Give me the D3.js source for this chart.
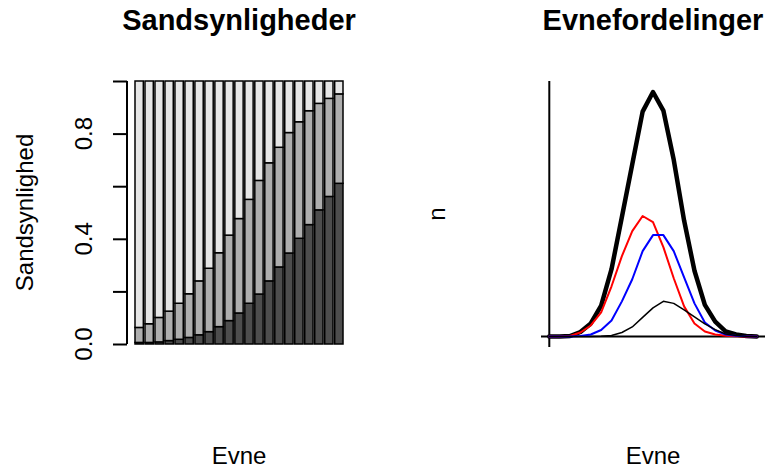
<!DOCTYPE html>
<html>
<head>
<meta charset="utf-8">
<script src="https://cdn.jsdelivr.net/npm/d3@7"></script>
<style>
  body { margin: 0; background: #fff; }
  text { font-family: "Liberation Sans", Arial, Helvetica, sans-serif; fill: #000; }
</style>
</head>
<body>
<div id="chart"></div>
<script>
// ability levels (21 groups)
var levels = d3.range(1, 22);

// stacked probabilities per level: lowest / middle / highest category
var probLow  = [0.006,0.006,0.008,0.013,0.018,0.025,0.035,0.047,0.066,0.089,0.118,0.155,0.190,0.240,0.293,0.346,0.402,0.454,0.510,0.561,0.611];
var probMid  = [0.057,0.071,0.093,0.112,0.137,0.166,0.205,0.241,0.281,0.325,0.359,0.395,0.432,0.449,0.455,0.458,0.443,0.433,0.405,0.373,0.340];
var probHigh = [0.937,0.923,0.899,0.875,0.845,0.809,0.760,0.712,0.653,0.586,0.523,0.450,0.378,0.311,0.252,0.196,0.155,0.113,0.085,0.066,0.049];
var barColors = ["#4D4D4D", "#AEAEAE", "#E6E6E6"];
var yTicks = [0, 0.2, 0.4, 0.6, 0.8, 1.0];
var yTickLabels = ["0.0", "", "0.4", "", "0.8", ""];

// ability distributions (counts per level)
var nTotal = [0,0.1,0.5,4.5,13,30.8,67,119,171.5,224,243.5,225,176,115.5,65.5,31.5,14.8,5.2,2,0.6,0];
var nRed   = [0,0.1,0.5,4,11,24,50,80,105,120,114,89,58,30,13,5,2,0.7,0.3,0.1,0];
var nBlue  = [0,0,0,0.5,2,6.5,16,35,57,85,101,101,85,59,33,14,6,2,0.7,0.2,0];
var nBlack = [0,0,0,0,0,0.3,1,4,9.5,19,28.5,35,33,26.5,19.5,12.5,6.8,2.5,1,0.3,0];

var W = 774, H = 475;
var svg = d3.select("#chart").append("svg")
    .attr("width", W).attr("height", H);

svg.append("rect").attr("width", W).attr("height", H).attr("fill", "#fff");

// ---------- left: stacked bars ----------
var x1 = d3.scaleBand()
    .domain(levels)
    .range([135, 343])
    .paddingInner(1 / 6)
    .paddingOuter(0);
var y1 = d3.scaleLinear().domain([0, 1]).range([344, 81]);

var stackRows = levels.map(function (l, i) {
    return { level: l, low: probLow[i], mid: probMid[i], high: probHigh[i] };
});
var stack = d3.stack().keys(["low", "mid", "high"])(stackRows);

svg.append("g").selectAll("g")
    .data(stack)
    .enter().append("g")
    .attr("fill", function (d, i) { return barColors[i]; })
    .selectAll("rect")
    .data(function (d) { return d; })
    .enter().append("rect")
    .attr("x", function (d) { return x1(d.data.level); })
    .attr("y", function (d) { return y1(d[1]); })
    .attr("width", x1.bandwidth())
    .attr("height", function (d) { return y1(d[0]) - y1(d[1]); })
    .attr("stroke", "#000")
    .attr("stroke-width", 1.5);

var yAxis = svg.append("g")
    .attr("transform", "translate(127,0)")
    .call(d3.axisLeft(y1).tickValues(yTicks).tickSize(14).tickFormat(""));
yAxis.select(".domain").attr("d", "M0," + y1(0) + "V" + y1(1)).attr("stroke-width", 2);
yAxis.selectAll(".tick line").attr("stroke-width", 2);

svg.append("g").selectAll("text")
    .data(yTicks)
    .enter().append("text")
    .attr("transform", function (d) { return "translate(92," + y1(d) + ") rotate(-90)"; })
    .attr("text-anchor", "middle")
    .style("font-size", "24px")
    .text(function (d, i) { return yTickLabels[i]; });

svg.append("text")
    .attr("transform", "translate(33,212.5) rotate(-90)")
    .attr("text-anchor", "middle")
    .style("font-size", "24px")
    .text("Sandsynlighed");

svg.append("text")
    .attr("x", 239).attr("y", 30)
    .attr("text-anchor", "middle")
    .style("font-size", "29px").style("font-weight", "bold")
    .text("Sandsynligheder");

svg.append("text")
    .attr("x", 239).attr("y", 464)
    .attr("text-anchor", "middle")
    .style("font-size", "24px")
    .text("Evne");

// ---------- right: distributions ----------
var x2 = d3.scaleLinear().domain([0, levels.length - 1]).range([549.3, 756.7]);
var y2 = d3.scaleLinear().domain([0, d3.max(nTotal)]).range([336.5, 92]);

svg.append("line")
    .attr("x1", 541).attr("x2", 765)
    .attr("y1", y2(0)).attr("y2", y2(0))
    .attr("stroke", "#000").attr("stroke-width", 2);
svg.append("line")
    .attr("x1", x2(0)).attr("x2", x2(0))
    .attr("y1", 81).attr("y2", 347)
    .attr("stroke", "#000").attr("stroke-width", 2);

var line = d3.line()
    .x(function (d, i) { return x2(i); })
    .y(function (d) { return y2(d); });

var series = [
    { values: nTotal, color: "#000", width: 4.5 },
    { values: nRed, color: "#FF0000", width: 2 },
    { values: nBlue, color: "#0000FF", width: 2 },
    { values: nBlack, color: "#000", width: 1.5 }
];

svg.append("g").selectAll("path")
    .data(series)
    .enter().append("path")
    .attr("d", function (d) { return line(d.values); })
    .attr("fill", "none")
    .attr("stroke", function (d) { return d.color; })
    .attr("stroke-width", function (d) { return d.width; })
    .attr("stroke-linejoin", "round")
    .attr("stroke-linecap", "round");

svg.append("text")
    .attr("transform", "translate(445,214) rotate(-90)")
    .attr("text-anchor", "middle")
    .style("font-size", "24px")
    .text("n");

svg.append("text")
    .attr("x", 653).attr("y", 30)
    .attr("text-anchor", "middle")
    .style("font-size", "29px").style("font-weight", "bold")
    .text("Evnefordelinger");

svg.append("text")
    .attr("x", 653).attr("y", 464)
    .attr("text-anchor", "middle")
    .style("font-size", "24px")
    .text("Evne");
</script>
</body>
</html>
